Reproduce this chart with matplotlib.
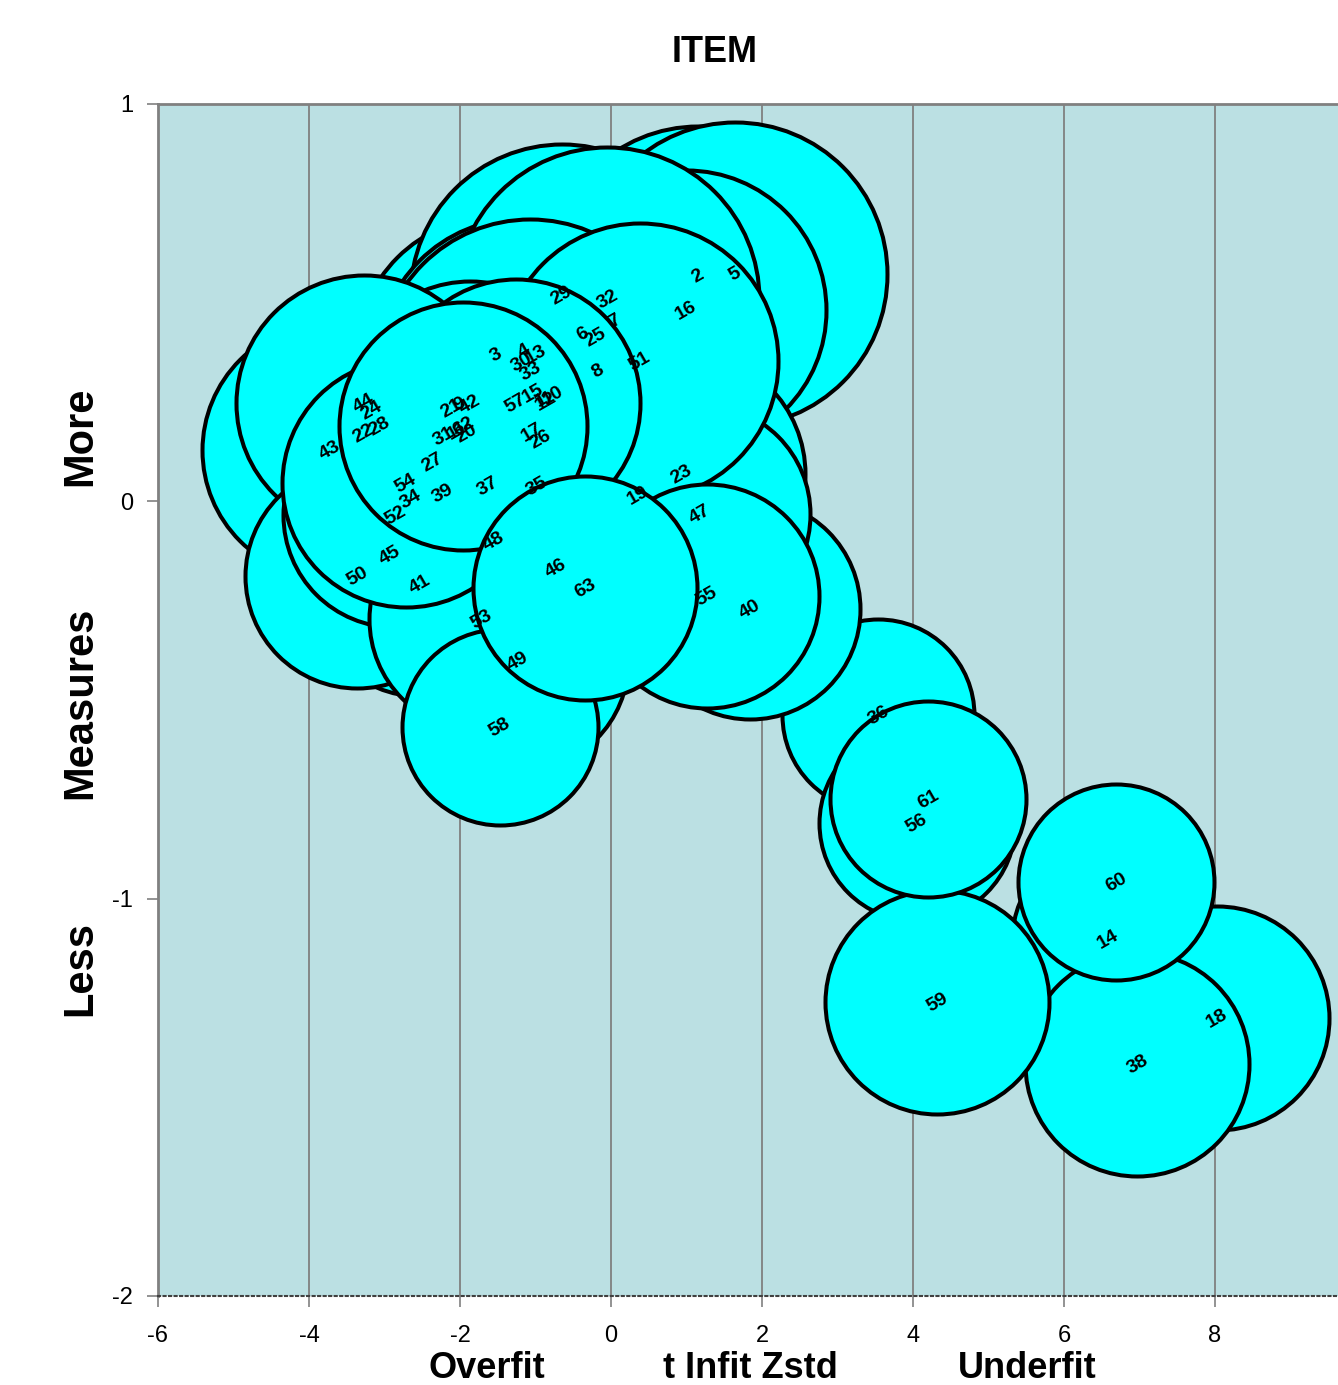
import matplotlib.pyplot as plt

plt.rcParams['font.family'] = ['Liberation Sans', 'DejaVu Sans']

# item number, infit zstd (x), measure (y), model S.E. (bubble size)
items = list(range(1, 64))
infit_zstd = [-0.93, 1.15, -1.52, -1.15, 1.64, -0.37, 0.05, -0.17, -2.00, -0.77,
              -2.03, -0.86, -0.99, 6.58, -1.03, 0.99, -1.05, 8.03, 0.36, -1.92,
              -2.11, -3.28, 0.93, -3.17, -0.20, -0.94, -2.37, -3.06, -0.65, -1.19,
              -2.21, -0.05, -1.07, -2.65, -0.98, 3.54, -1.63, 6.97, -2.23, 1.84,
              -2.53, -1.87, -3.72, -3.27, -2.93, -0.73, 1.18, -1.55, -1.23, -3.36,
              0.38, -2.86, -1.72, -2.72, 1.27, 4.05, -1.26, -1.47, 4.32, 6.69,
              4.20, -1.96, -0.34]
measure = [0.254, 0.566, 0.367, 0.378, 0.571, 0.420, 0.453, 0.327, 0.244, 0.267,
           0.176, 0.252, 0.370, -1.102, 0.272, 0.481, 0.174, -1.301, 0.013, 0.171,
           0.232, 0.169, 0.068, 0.229, 0.413, 0.156, 0.096, 0.189, 0.518, 0.350,
           0.164, 0.508, 0.327, 0.005, 0.038, -0.539, 0.038, -1.417, 0.020, -0.272,
           -0.209, 0.242, 0.128, 0.247, -0.138, -0.169, -0.033, -0.101, -0.403, -0.189,
           0.352, -0.035, -0.297, 0.045, -0.239, -0.810, 0.247, -0.569, -1.261, -0.959,
           -0.750, 0.189, -0.219]
model_se = [0.31, 0.375, 0.35, 0.34, 0.38, 0.345, 0.35, 0.34, 0.31, 0.31,
            0.30, 0.31, 0.325, 0.24, 0.31, 0.35, 0.30, 0.28, 0.31, 0.30,
            0.31, 0.30, 0.31, 0.31, 0.345, 0.30, 0.29, 0.30, 0.38, 0.36,
            0.30, 0.38, 0.38, 0.29, 0.28, 0.24, 0.28, 0.28, 0.28, 0.275,
            0.28, 0.31, 0.32, 0.32, 0.28, 0.28, 0.275, 0.275, 0.275, 0.28,
            0.345, 0.28, 0.28, 0.31, 0.28, 0.245, 0.31, 0.245, 0.28, 0.245,
            0.245, 0.31, 0.28]

xticks = [-6, -4, -2, 0, 2, 4, 6, 8]
gridx = [-6, -4, -2, 0, 2, 4, 6, 8, 10]
yticks = [-2, -1, 0, 1]

W, H = 1338, 1385
fig = plt.figure(figsize=(W / 100, H / 100), dpi=100)
# plot area runs past the right edge of the picture, as in the original
ax = fig.add_axes([158 / W, (H - 1296) / H, 16 * 75.5 / W, (1296 - 104) / H])
ax.set_facecolor('#BBE0E3')
ax.set_xlim(-6, 10)
ax.set_ylim(-2, 1)

for xv in gridx:
    ax.axvline(xv, color='#808080', lw=1.3, zorder=1)

# bubbles in item order, later items on top
px_per_se = 400
for i in range(len(items)):
    d_pt = 2 * model_se[i] * px_per_se * 0.72
    ax.scatter(infit_zstd[i], measure[i], s=d_pt ** 2, c='#00FFFF',
               edgecolors='black', linewidths=2.9, zorder=2 + i * 0.01)

for i in range(len(items)):
    ax.text(infit_zstd[i], measure[i], str(items[i]), rotation=30, ha='center',
            va='center', fontsize=14, fontweight='bold', color='black', zorder=5)

ax.set_xticks(xticks)
ax.set_xticklabels([str(v) for v in xticks])
ax.set_yticks(yticks)
ax.set_yticklabels([str(v) for v in yticks])
ax.tick_params(axis='both', labelsize=17, direction='out', length=8, width=1.2,
               color='#808080', pad=10)
ax.tick_params(axis='x', pad=13)

for side in ['top', 'left']:
    ax.spines[side].set_color('#808080')
    ax.spines[side].set_linewidth(2)
ax.spines['bottom'].set_color('#404040')
ax.spines['bottom'].set_linestyle(':')
ax.spines['bottom'].set_linewidth(1.5)
ax.spines['right'].set_visible(False)

fig.text(715 / W, 1 - 52 / H, 'ITEM', ha='center', va='center', fontsize=26,
         fontweight='bold')
fig.text(487 / W, 1 - 1378 / H, 'Overfit', ha='center', va='baseline',
         fontsize=26, fontweight='bold')
fig.text(750 / W, 1 - 1378 / H, 't Infit Zstd', ha='center', va='baseline',
         fontsize=26, fontweight='bold')
fig.text(1027 / W, 1 - 1378 / H, 'Underfit', ha='center', va='baseline',
         fontsize=26, fontweight='bold')
fig.text(80 / W, 1 - 436 / H, 'More', rotation=90, ha='center', va='center',
         fontsize=30, fontweight='bold')
fig.text(80 / W, 1 - 703 / H, 'Measures', rotation=90, ha='center', va='center',
         fontsize=30, fontweight='bold')
fig.text(80 / W, 1 - 968 / H, 'Less', rotation=90, ha='center', va='center',
         fontsize=30, fontweight='bold')

fig.savefig('out.png', dpi=100)
